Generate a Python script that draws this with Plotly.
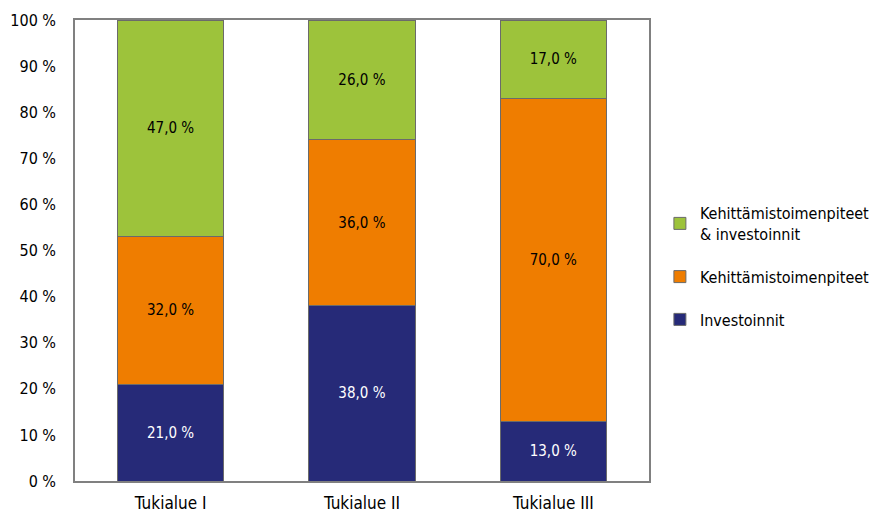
import plotly.graph_objects as go

categories = ["Tukialue I", "Tukialue II", "Tukialue III"]
investoinnit = [21.0, 38.0, 13.0]
kehittamis = [32.0, 36.0, 70.0]
kehittamis_inv = [47.0, 26.0, 17.0]
y_ticks = [0, 10, 20, 30, 40, 50, 60, 70, 80, 90, 100]
y_tick_labels = [f"{v} %" for v in y_ticks]

FONT = "DejaVu Sans Condensed, Liberation Sans Narrow, sans-serif"
EDGE = "#6b6b6b"

series = [
    ("Investoinnit", investoinnit, "#262a78", "white", 3),
    ("Kehittämistoimenpiteet", kehittamis, "#ef7d00", "black", 2),
    ("Kehittämistoimenpiteet<br>& investoinnit", kehittamis_inv, "#9dc33b", "black", 1),
]

fig = go.Figure()
for i, (name, vals, color, tcolor, rank) in enumerate(series):
    fig.add_trace(go.Bar(
        x=categories, y=vals, name=name, legendgroup=f"g{i}", legendrank=rank,
        marker=dict(color=color, line=dict(color=EDGE, width=1)),
        texttemplate="%{y:.1f} %", textposition="inside", insidetextanchor="middle",
        textfont=dict(family=FONT, size=15, color=tcolor),
        constraintext="none",
    ))

fig.update_layout(
    barmode="stack",
    bargap=0.445,
    separators=", ",
    width=885, height=513,
    margin=dict(l=75, r=236, t=20, b=32, autoexpand=False),
    paper_bgcolor="white", plot_bgcolor="white",
    font=dict(family=FONT, size=16, color="black"),
    uniformtext=dict(mode=False),
    legend=dict(
        traceorder="grouped",
        tracegroupgap=19,
        x=1.019, xanchor="left", y=0.618, yanchor="top",
        font=dict(family=FONT, size=16, color="black"),
        itemwidth=30,
    ),
    xaxis=dict(
        showline=True, linecolor="#808080", linewidth=1.5, mirror=True,
        ticks="", tickfont=dict(size=17), ticklabelstandoff=6, automargin=False,
    ),
    yaxis=dict(
        range=[0, 100], tickvals=y_ticks, ticktext=y_tick_labels,
        showline=True, linecolor="#808080", linewidth=1.5, mirror=True,
        showgrid=False, zeroline=False, ticks="", tickfont=dict(size=16),
        ticklabelstandoff=14, automargin=False,
    ),
)

fig.write_html("out.html", config={"displayModeBar": False},
               post_script="document.body.style.margin='0';")
